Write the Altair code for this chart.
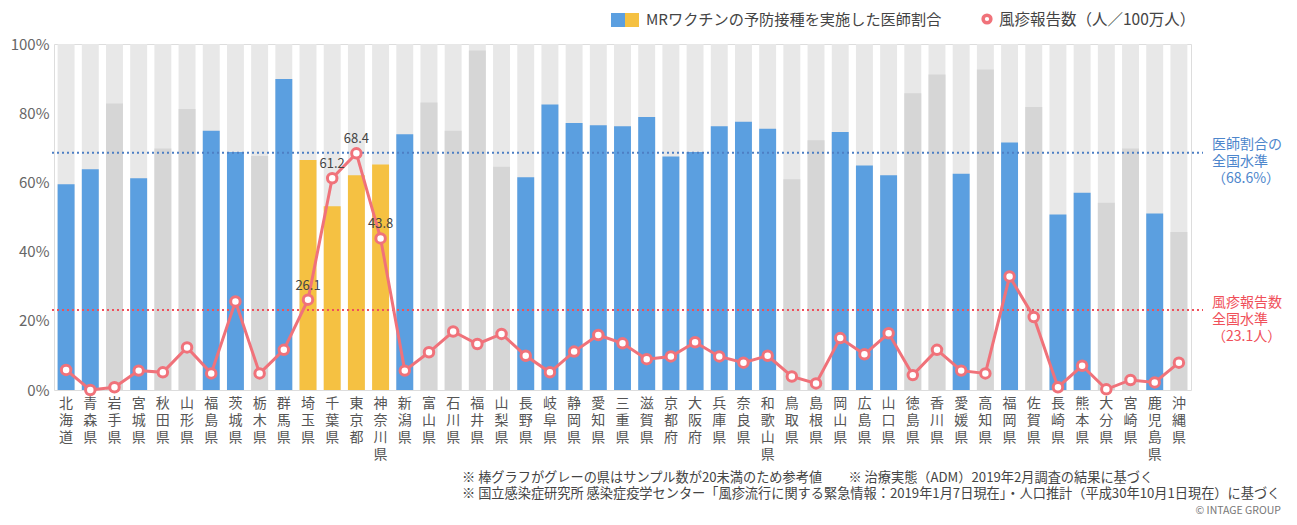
import altair as alt
import pandas as pd

prefs = ["北海道","青森県","岩手県","宮城県","秋田県","山形県","福島県","茨城県","栃木県","群馬県",
         "埼玉県","千葉県","東京都","神奈川県","新潟県","富山県","石川県","福井県","山梨県","長野県",
         "岐阜県","静岡県","愛知県","三重県","滋賀県","京都府","大阪府","兵庫県","奈良県","和歌山県",
         "鳥取県","島根県","岡山県","広島県","山口県","徳島県","香川県","愛媛県","高知県","福岡県",
         "佐賀県","長崎県","熊本県","大分県","宮崎県","鹿児島県","沖縄県"]

vaccine_rate = [59.5,63.8,82.8,61.2,69.8,81.2,74.9,68.8,67.6,89.9,
                66.5,53.1,62.1,65.2,73.9,83.1,74.9,98.1,64.5,61.5,
                82.5,77.2,76.5,76.2,78.9,67.5,68.8,76.2,77.5,75.5,
                60.9,72.2,74.6,64.9,62.1,85.8,91.2,62.5,92.6,71.5,
                81.8,50.7,57.0,54.1,69.8,51.0,45.7]

group = ["b","b","g","b","g","g","b","b","g","b",
         "y","y","y","y","b","g","g","g","g","b",
         "b","b","b","b","b","b","b","b","b","b",
         "g","g","b","b","b","g","g","b","g","b",
         "g","b","b","g","g","b","g"]

measles = [5.8,0.0,0.8,5.6,5.1,12.3,4.8,25.6,4.8,11.6,
           26.1,61.2,68.4,43.8,5.6,10.9,16.9,13.3,16.2,9.9,
           5.1,11.1,15.9,13.5,8.9,9.7,13.8,9.7,7.9,9.9,
           3.9,1.9,15.0,10.3,16.4,4.3,11.6,5.6,4.8,32.8,
           21.1,0.8,7.0,0.2,2.9,2.2,7.9]

labelled = ["埼玉県","千葉県","東京都","神奈川県"]

national_rate = 68.6
national_measles = 23.1

W, H = 1137, 346
FONT = "Noto Sans CJK JP"
BLUE = "#5b9fe0"
YELLOW = "#f5c142"
GRAY = "#d6d6d6"
BG = "#e8e8e8"
LINE = "#f0727a"

df = pd.DataFrame({
    "pref": prefs,
    "rate": vaccine_rate,
    "grp": group,
    "measles": measles,
    "full": [100] * len(prefs),
})
df["lbl"] = [f"{m:.1f}" if p in labelled else "" for p, m in zip(prefs, measles)]

xenc = alt.X("pref:N", sort=prefs, title=None,
             scale=alt.Scale(paddingInner=0.3, paddingOuter=0.15),
             axis=alt.Axis(labelAngle=0, labelExpr="split(datum.label, '')",
                           labelFontSize=14, labelColor="#555", labelFont=FONT,
                           labelLineHeight=17, labelPadding=6, labelBaseline="top",
                           ticks=False, domain=False))
yscale = alt.Scale(domain=[0, 100], nice=False)

base = alt.Chart(df)

bg = base.mark_bar(color=BG).encode(
    x=xenc,
    y=alt.Y("full:Q", scale=yscale, title=None,
            axis=alt.Axis(values=[0, 20, 40, 60, 80, 100], labelExpr="datum.value + '%'",
                          labelFontSize=15, labelColor="#666", labelFont=FONT,
                          labelPadding=5, ticks=False, domain=False, grid=False)),
)

bars = base.mark_bar().encode(
    x=alt.X("pref:N", sort=prefs),
    y=alt.Y("rate:Q", scale=yscale),
    color=alt.Color("grp:N", scale=alt.Scale(domain=["b", "y", "g"], range=[BLUE, YELLOW, GRAY]),
                    legend=None),
)

rule_df = pd.DataFrame({"v": [national_rate], "m": [national_measles]})
rule_rate = alt.Chart(rule_df).mark_rule(color="#4d7fc4", strokeDash=[2, 3], strokeWidth=2).encode(
    y=alt.Y("v:Q", scale=yscale), x=alt.value(-2), x2=alt.value(W + 12))
rule_meas = alt.Chart(rule_df).mark_rule(color="#f0505a", strokeDash=[2, 3], strokeWidth=2).encode(
    y=alt.Y("m:Q", scale=yscale), x=alt.value(-2), x2=alt.value(W + 12))

line = base.mark_line(color=LINE, strokeWidth=3).encode(
    x=alt.X("pref:N", sort=prefs), y=alt.Y("measles:Q", scale=yscale))
pts = base.mark_point(filled=True, fill="white", stroke=LINE, strokeWidth=3, size=90, opacity=1).encode(
    x=alt.X("pref:N", sort=prefs), y=alt.Y("measles:Q", scale=yscale))
vals = base.transform_filter("datum.lbl != ''").mark_text(
    dy=-14, fontSize=13, color="#444", font=FONT).encode(
    x=alt.X("pref:N", sort=prefs), y=alt.Y("measles:Q", scale=yscale), text="lbl:N")

one = pd.DataFrame({"a": [0]})
def txt(s, x, y, color, size=13, align="left", lh=16):
    return alt.Chart(one).mark_text(text=s, align=align, baseline="middle", fontSize=size,
                                    color=color, font=FONT, lineBreak="\n", lineHeight=lh).encode(
        x=alt.value(x), y=alt.value(y))

ann_rate = txt("医師割合の\n全国水準\n（68.6%）", W + 21, 101, "#4d86cc", 14, lh=17)
ann_meas = txt("風疹報告数\n全国水準\n（23.1人）", W + 21, 259, "#f0505a", 14, lh=17)

leg_b = alt.Chart(one).mark_square(color=BLUE, size=196, opacity=1).encode(x=alt.value(564), y=alt.value(-24))
leg_y = alt.Chart(one).mark_square(color=YELLOW, size=196, opacity=1).encode(x=alt.value(578), y=alt.value(-24))
leg_t1 = txt("MRワクチンの予防接種を実施した医師割合", 592, -24, "#444", 15.2)
leg_c = alt.Chart(one).mark_point(filled=False, stroke=LINE, strokeWidth=3.5, size=60, opacity=1).encode(
    x=alt.value(933), y=alt.value(-25))
leg_t2 = txt("風疹報告数（人／100万人）", 945, -24, "#444", 15.5)

note1 = txt("※ 棒グラフがグレーの県はサンプル数が20未満のため参考値　　※ 治療実態（ADM）2019年2月調査の結果に基づく",
            408, 434, "#444", 13.2)
note2 = txt("※ 国立感染症研究所 感染症疫学センター「風疹流行に関する緊急情報：2019年1月7日現在」・人口推計（平成30年10月1日現在）に基づく",
            408, 450, "#444", 13.2)
copy = txt("© INTAGE GROUP", 1227, 467, "#777", 10.5, align="right")

chart = alt.layer(bg, bars, rule_rate, rule_meas, line, pts, vals,
                  ann_rate, ann_meas, leg_b, leg_y, leg_t1, leg_c, leg_t2,
                  note1, note2, copy).properties(
    width=W, height=H,
    autosize=alt.AutoSizeParams(type="none"),
    padding={"left": 46, "top": 36, "right": 97, "bottom": 127},
).configure_view(stroke=None).configure(background="white")

chart.save("out.html", embed_options={"renderer": "svg", "actions": False})
